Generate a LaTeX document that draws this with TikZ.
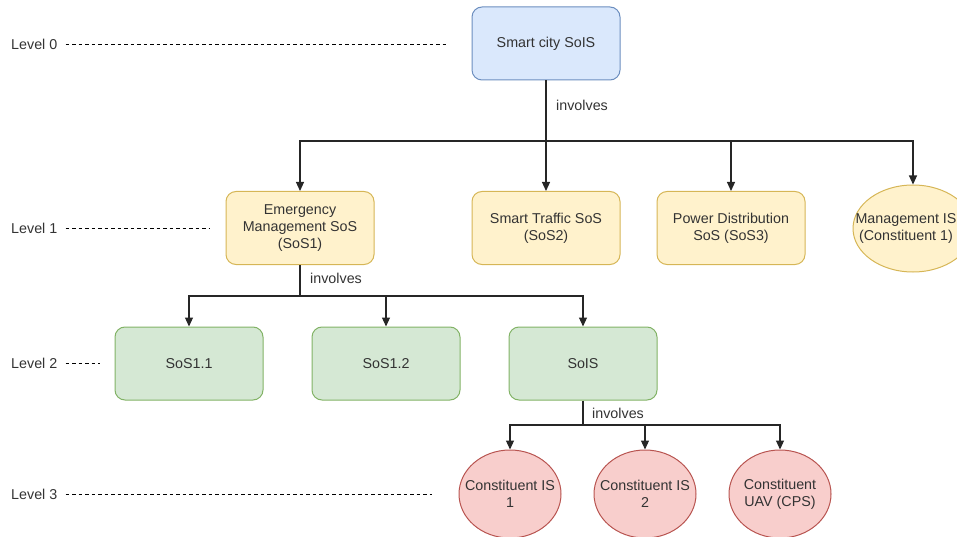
\documentclass[tikz,border=0pt]{standalone}
\usepackage{fontspec}
\setmainfont{Liberation Sans}
\usetikzlibrary{arrows.meta,shapes.geometric}
\definecolor{txt}{HTML}{333333}
\definecolor{bfill}{HTML}{DAE8FC}\definecolor{bline}{HTML}{6C8EBF}
\definecolor{yfill}{HTML}{FFF2CC}\definecolor{yline}{HTML}{D6B656}
\definecolor{gfill}{HTML}{D5E8D4}\definecolor{gline}{HTML}{82B366}
\definecolor{rfill}{HTML}{F8CECC}\definecolor{rline}{HTML}{B85450}
\tikzset{
  base/.style={font=\fontsize{14.3}{17}\selectfont, text=txt, align=center, line width=1pt, inner sep=0pt},
  rbox/.style={base, rectangle, rounded corners=10pt, minimum width=148pt, minimum height=73pt},
  bluebox/.style={rbox, fill=bfill, draw=bline},
  yelbox/.style={rbox, fill=yfill, draw=yline},
  grnbox/.style={rbox, fill=gfill, draw=gline},
  yelell/.style={base, ellipse, fill=yfill, draw=yline, minimum width=120pt, minimum height=87pt},
  redell/.style={base, ellipse, fill=rfill, draw=rline, minimum width=102pt, minimum height=88pt},
  etext/.style={font=\fontsize{14.3}{17}\selectfont, text=txt, align=center, inner sep=0pt},
  conn/.style={draw=black!85, line width=1.1pt},
  arr/.style={conn, -{Triangle[length=9pt,width=8pt]}},
  lvl/.style={font=\fontsize{14.3}{17}\selectfont, text=txt, anchor=west, inner sep=0pt},
  lab/.style={font=\fontsize{14.3}{17}\selectfont, text=txt, anchor=west, inner sep=0pt},
  lvline/.style={draw=black, line width=0.9pt, dash pattern=on 3.5pt off 3pt},
}
\begin{document}
\begin{tikzpicture}[x=1pt,y=-1pt]
\useasboundingbox (0,0) rectangle (957,537);
\clip (0,0) rectangle (957,537);
% level labels
\node[lvl] (l0) at (11,44) {Level 0};
\node[lvl] (l1) at (11,228) {Level 1};
\node[lvl] (l2) at (11,363) {Level 2};
\node[lvl] (l3) at (11,494) {Level 3};
\coordinate (l0e) at (447,44);
\coordinate (l1e) at (210,228);
\coordinate (l2e) at (100,363);
\coordinate (l3e) at (432,494);
\draw[lvline] ([xshift=8pt]l0.east) -- (l0e);
\draw[lvline] ([xshift=8pt]l1.east) -- (l1e);
\draw[lvline] ([xshift=8pt]l2.east) -- (l2e);
\draw[lvline] ([xshift=8pt]l3.east) -- (l3e);
% nodes
\node[bluebox] (city) at (546,43.5) {Smart city SoIS};
\node[yelbox] (emerg) at (300,228) {Emergency\\Management SoS\\(SoS1)};
\node[yelbox] (traffic) at (546,228) {Smart Traffic SoS\\(SoS2)};
\node[yelbox] (power) at (731,228) {Power Distribution\\SoS (SoS3)};
\node[yelell] (mgmt) at (913,228.5) {};
\node[etext] (mgmtt) at (906,228.5) {Management IS\\(Constituent 1)};
\node[grnbox] (s11) at (189,363.5) {SoS1.1};
\node[grnbox] (s12) at (386,363.5) {SoS1.2};
\node[grnbox] (sois) at (583,363.5) {SoIS};
\node[redell] (c1) at (510,494) {};
\node[redell] (c2) at (645,494) {};
\node[redell] (c3) at (780,494) {};
\node[etext] (c1t) at (c1.center) {Constituent IS\\1};
\node[etext] (c2t) at (c2.center) {Constituent IS\\2};
\node[etext] (c3t) at (c3.center) {Constituent\\UAV (CPS)};
% buses
\coordinate (b0) at (546,141);
\coordinate (b1) at (300,296);
\coordinate (b2) at (583,425);
\draw[conn] (city.south) -- (b0);
\draw[arr] (b0) -| (emerg.north);
\draw[arr] (b0) -- (traffic.north);
\draw[arr] (b0) -| (power.north);
\draw[arr] (b0) -| (mgmt.north);
\draw[conn] (emerg.south) -- (b1);
\draw[arr] (b1) -| (s11.north);
\draw[arr] (b1) -| (s12.north);
\draw[arr] (b1) -| (sois.north);
\draw[conn] (sois.south) -- (b2);
\draw[arr] (b2) -| (c1.north);
\draw[arr] (b2) -| (c2.north);
\draw[arr] (b2) -| (c3.north);
% labels
\node[lab] (inv0) at (556,105) {involves};
\node[lab] (inv1) at (310,278) {involves};
\node[lab] (inv2) at (592,413) {involves};
\end{tikzpicture}
\end{document}
